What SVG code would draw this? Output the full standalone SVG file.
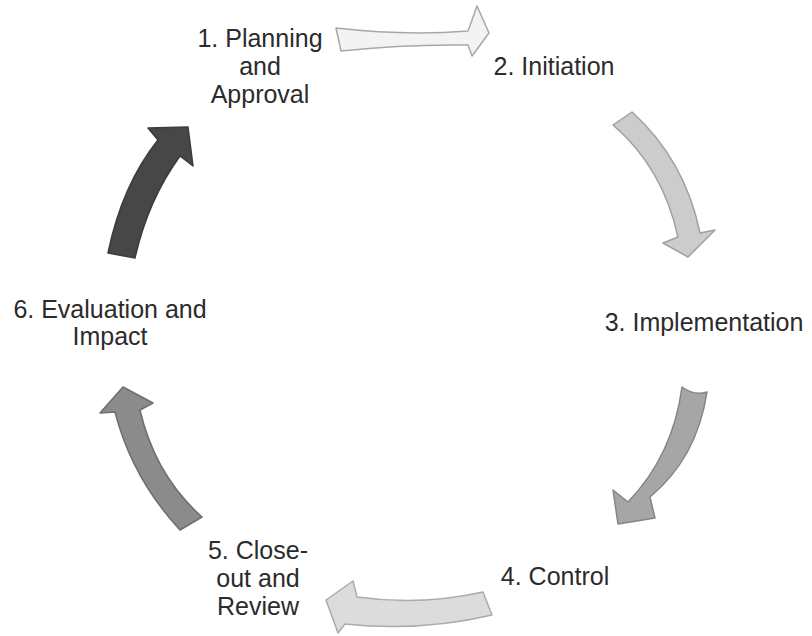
<svg xmlns="http://www.w3.org/2000/svg" width="812" height="636" viewBox="0 0 812 636">
<style>
  text { font-family: "Liberation Sans", Arial, sans-serif; font-size: 25px; fill: #2b2b2b; text-anchor: middle; }
  .arr { stroke-width: 1.5; stroke-linejoin: round; }
</style>
<rect width="812" height="636" fill="#ffffff"/>
<g id="connectors">
  <path class="arr" fill="#f3f3f3" stroke="#a8a8a8" d="M336,28 Q405,36 468,31 L477,6 L489,33 L472,56 L468,45 Q405,44 341,51 Z"/>
  <path class="arr" fill="#cccccc" stroke="#a0a0a0" d="M613,125 L632,112 Q685,160 700,233 L715,230 L688,257 L663,243 L678,237 Q663,168 613,125 Z"/>
  <path class="arr" fill="#a6a6a6" stroke="#858585" d="M682,387 Q694,396 707,392 Q697,458 650,497 L655,518 L618,524 L613,490 L628,502 Q673,455 682,387 Z"/>
  <path class="arr" fill="#dcdcdc" stroke="#ababab" d="M483,592 L492,615 Q420,632 345,624 L338,633 L326,600 L353,581 L357,597 Q420,606 483,592 Z"/>
  <path class="arr" fill="#8b8b8b" stroke="#6e6e6e" d="M180,530 Q132,478 115,412 L100,413 L123,387 L153,403 L140,410 Q155,475 202,517 Z"/>
  <path class="arr" fill="#474747" stroke="#3c3c3c" d="M108,253 Q122,185 158,140 L148,128 L188,127 L193,166 L180,156 Q148,200 135,258 Z"/>
</g>
<g id="node1">
  <text x="260" y="47">1. Planning</text>
  <text x="260" y="75">and</text>
  <text x="260" y="103">Approval</text>
</g>
<g id="node2">
  <text x="554" y="75">2. Initiation</text>
</g>
<g id="node3">
  <text x="704" y="331">3. Implementation</text>
</g>
<g id="node4">
  <text x="555" y="585">4. Control</text>
</g>
<g id="node5">
  <text x="258" y="559">5. Close-</text>
  <text x="258" y="587">out and</text>
  <text x="258" y="615">Review</text>
</g>
<g id="node6">
  <text x="110" y="318">6. Evaluation and</text>
  <text x="110" y="345">Impact</text>
</g>
</svg>
